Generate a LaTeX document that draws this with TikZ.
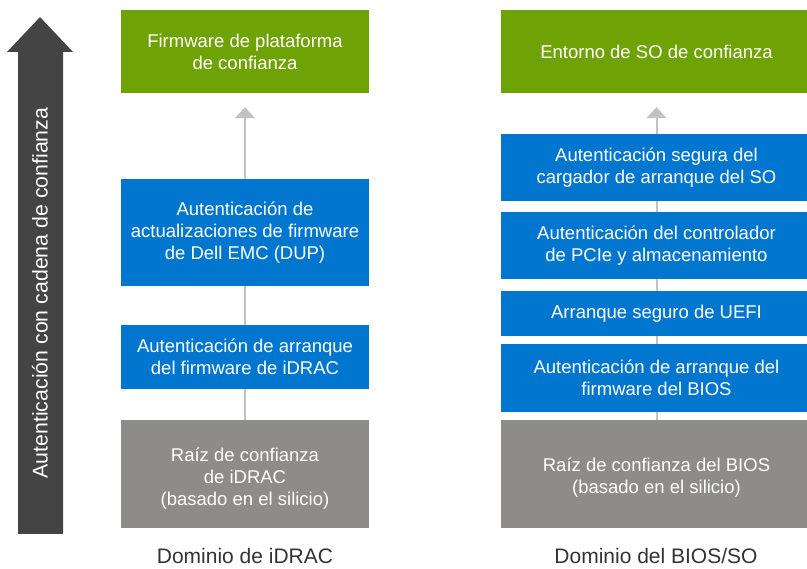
\documentclass[tikz,border=0pt]{standalone}
\usepackage{fontspec}
\setmainfont{Liberation Sans}
\usepackage{tikz}
\usetikzlibrary{arrows.meta}

\definecolor{verde}{RGB}{111,162,4}
\definecolor{azul}{RGB}{0,118,206}
\definecolor{gris}{RGB}{142,140,138}
\definecolor{oscuro}{RGB}{68,68,68}
\definecolor{claro}{RGB}{194,194,194}
\definecolor{rotulo}{RGB}{51,51,51}

\tikzset{
  caja/.style={rectangle, text=white, align=center, inner sep=0pt,
    font=\fontsize{18.5}{22}\selectfont},
  conn/.style={draw=claro, line width=2pt},
  dominio/.style={text=rotulo, inner sep=0pt, font=\fontsize{21}{24}\selectfont},
}

\begin{document}
\begin{tikzpicture}[x=1pt,y=-1pt]
\useasboundingbox (0,0) rectangle (807,569);
% flecha grande
\fill[oscuro] (18,534) -- (18,52) -- (7,52) -- (40,17) -- (73,52) -- (63,52) -- (63,534) -- cycle;
\node[rotate=90, text=white, font=\fontsize{21.3}{24}\selectfont] (cadena) at (40,293) {Autenticación con cadena de confianza};

% dominio de iDRAC
\node[caja, fill=verde, minimum width=248pt, minimum height=83pt] (g1) at (245,51.5) {Firmware de plataforma\\de confianza};
\node[caja, fill=azul, minimum width=248pt, minimum height=107pt] (b1) at (245,232.5) {Autenticación de\\actualizaciones de firmware\\de Dell EMC (DUP)};
\node[caja, fill=azul, minimum width=248pt, minimum height=64pt] (b2) at (245,357) {Autenticación de arranque\\del firmware de iDRAC};
\node[caja, fill=gris, minimum width=248pt, minimum height=108pt,
  label={[caja, yshift=-5pt]center:Raíz de confianza\\de iDRAC\\(basado en el silicio)}] (r1) at (245,474) {};
\node[dominio] (domA) at (245,556) {Dominio de iDRAC};

% dominio del BIOS/SO
\node[caja, fill=verde, minimum width=311pt, minimum height=83pt] (g2) at (656.5,51.5) {Entorno de SO de confianza};
\node[caja, fill=azul, minimum width=311pt, minimum height=67pt] (c1) at (656.5,167.5) {Autenticación segura del\\cargador de arranque del SO};
\node[caja, fill=azul, minimum width=311pt, minimum height=67pt] (c2) at (656.5,245.5) {Autenticación del controlador\\de PCIe y almacenamiento};
\node[caja, fill=azul, minimum width=311pt, minimum height=45pt] (c3) at (656.5,313.5) {Arranque seguro de UEFI};
\node[caja, fill=azul, minimum width=311pt, minimum height=68pt] (c4) at (656.5,378) {Autenticación de arranque del\\firmware del BIOS};
\node[caja, fill=gris, minimum width=311pt, minimum height=108pt,
  label={[caja, yshift=-4pt]center:Raíz de confianza del BIOS\\(basado en el silicio)}] (r2) at (656.5,474) {};
\node[dominio] (domB) at (656,556) {Dominio del BIOS/SO};

% conectores
\draw[conn, -{Triangle[width=20pt,length=11pt]}, shorten >=14pt] (b1) -- (g1);
\draw[conn, -{Triangle[width=20pt,length=11pt]}, shorten >=14pt] (c1) -- (g2);
\foreach \i/\j in {b2/b1, r1/b2, c2/c1, c3/c2, c4/c3, r2/c4} {
  \draw[conn] (\i) -- (\j);
}
\end{tikzpicture}
\end{document}
